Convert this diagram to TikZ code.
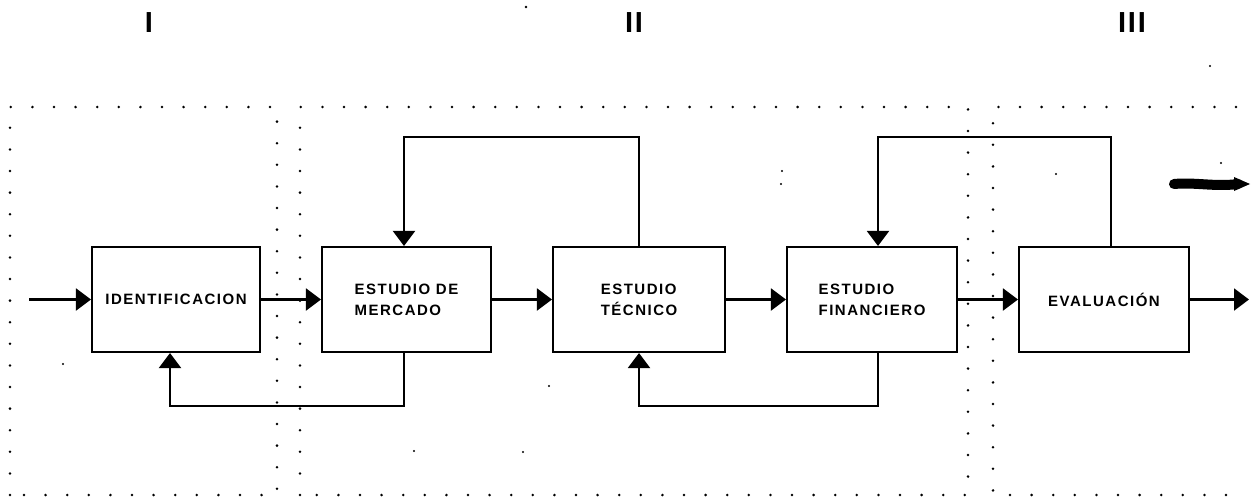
\documentclass[tikz,border=0pt]{standalone}
\usepackage{fontspec}
\newfontfamily\lab{Liberation Sans}[LetterSpace=10]
\newfontfamily\numfont{Liberation Sans}[LetterSpace=6]
\usetikzlibrary{arrows.meta}
\begin{document}
\begin{tikzpicture}[x=1pt,y=-1pt,
  stage/.style={draw,line width=2.1pt,inner sep=0pt,font=\lab\bfseries\fontsize{15}{21}\selectfont,align=left},
  conn/.style={line width=2.1pt,-{Triangle[length=15pt,width=22pt]}},
  region/.style={line width=2.8pt,line cap=round,dash pattern=on 0pt off 21.6pt},
  numeral/.style={font=\numfont\bfseries\fontsize{29}{29}\selectfont,inner sep=0pt}]
\useasboundingbox (0,0) rectangle (1251,501);
% regions
\draw[region] (10,495) -- (10,107) -- (277,107) -- (277,495) -- cycle;
\draw[region] (300,495) -- (300,107) -- (968,107) -- (968,495) -- cycle;
\draw[region] (1236,107) -- (993,107) -- (993,495) -- (1236,495);
% numerals
\node[numeral] (nI) at (149,23) {I};
\node[numeral] (nII) at (634,23) {II};
\node[numeral] (nIII) at (1132,23) {III};
% stages
\node[stage,minimum width=168pt,minimum height=105pt] (ident) at (176,299.5) {IDENTIFICACION};
\node[stage,minimum width=169pt,minimum height=105pt] (merc) at (406.5,299.5) {ESTUDIO DE\\MERCADO};
\node[stage,minimum width=172pt,minimum height=105pt] (tec) at (639,299.5) {ESTUDIO\\TÉCNICO};
\node[stage,minimum width=170pt,minimum height=105pt] (fin) at (872,299.5) {ESTUDIO\\FINANCIERO};
\node[stage,minimum width=170pt,minimum height=105pt] (eval) at (1104,299.5) {EVALUACIÓN};
\coordinate (in) at (29,299.5);
\coordinate (out) at (1249,299.5);
% forward flow
\draw[conn] (in) -- (ident.west);
\draw[conn] (ident.east) -- (merc.west);
\draw[conn] (merc.east) -- (tec.west);
\draw[conn] (tec.east) -- (fin.west);
\draw[conn] (fin.east) -- (eval.west);
\draw[conn] (eval.east) -- (out);
% feedback loops
\draw[conn] ([xshift=-2.5pt]merc.south) -- ++(0,53) -| ([xshift=-6pt]ident.south);
\draw[conn] (tec.north) -- ++(0,-109) -| ([xshift=-2.5pt]merc.north);
\draw[conn] ([xshift=6pt]fin.south) -- ++(0,53) -| (tec.south);
\draw[conn] ([xshift=7pt]eval.north) -- ++(0,-109) -| ([xshift=6pt]fin.north);
% scan specks
\fill (526,7) circle (1.3pt);
\fill (1210,66) circle (1.2pt);
\fill (1221,163) circle (1.2pt);
\fill (782,171) circle (1.1pt);
\fill (781,184) circle (1.1pt);
\fill (1056,174) circle (1.1pt);
\fill (63,364) circle (1.1pt);
\fill (523,452) circle (1.1pt);
\fill (414,451) circle (1.1pt);
\fill (549,386) circle (1.1pt);
\draw[line width=10pt,line cap=round] (1174,184) .. controls (1195,182) and (1215,187) .. (1238,184);
\fill (1234,177) -- (1250,184) -- (1234,191) -- cycle;
\end{tikzpicture}
\end{document}
